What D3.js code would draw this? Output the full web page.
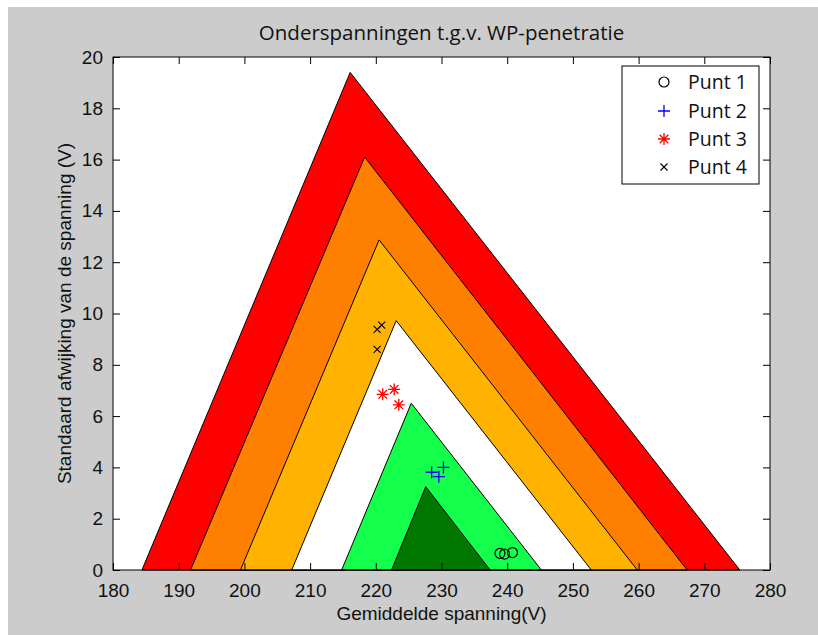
<!DOCTYPE html>
<html>
<head>
<meta charset="utf-8">
<script src="https://cdn.jsdelivr.net/npm/d3@7"></script>
<style>
body { margin: 0; background: #fff; }
text { font-family: "Liberation Sans", Arial, sans-serif; fill: #111; }
</style>
</head>
<body>
<div id="chart"></div>
<script>
// bands, outer to inner: left foot, apex (V, sigma), right foot
var bandColors = ["#ff0000", "#ff8000", "#ffb300", "#ffffff", "#14ff4c", "#007800"];
var leftFoot  = [184.4, 191.8, 199.4, 207.2, 214.8, 222.4];
var apexX     = [216.1, 218.3, 220.5, 223.1, 225.4, 227.6];
var apexY     = [19.4, 16.1, 12.87, 9.72, 6.5, 3.25];
var rightFoot = [275.4, 267.4, 259.8, 252.8, 245.2, 237.4];

// measured points
var punt1X = [238.9, 239.6, 240.8], punt1Y = [0.65, 0.62, 0.68];
var punt2X = [228.5, 229.6, 230.3], punt2Y = [3.81, 3.64, 4.0];
var punt3X = [221.05, 222.8, 223.5], punt3Y = [6.85, 7.04, 6.44];
var punt4X = [220.2, 220.9, 220.2], punt4Y = [9.38, 9.55, 8.6];

var legendLabels = ["Punt 1", "Punt 2", "Punt 3", "Punt 4"];
var xTicks = [180, 190, 200, 210, 220, 230, 240, 250, 260, 270, 280];
var yTicks = [0, 2, 4, 6, 8, 10, 12, 14, 16, 18, 20];

var W = 818, H = 635;
var margin = {top: 57, right: 48, bottom: 65, left: 113},
    width = W - margin.left - margin.right,
    height = H - margin.top - margin.bottom;

var svg = d3.select("#chart").append("svg")
    .attr("width", W)
    .attr("height", H);

// figure background
svg.append("rect")
    .attr("x", 8).attr("y", 7)
    .attr("width", W - 8).attr("height", H - 7)
    .attr("fill", "#cccccc");

var x = d3.scaleLinear().domain([180, 280]).range([0, width]);
var y = d3.scaleLinear().domain([0, 20]).range([height, 0]);

var g = svg.append("g")
    .attr("transform", "translate(" + margin.left + "," + margin.top + ")");

g.append("rect")
    .attr("width", width).attr("height", height)
    .attr("fill", "#fff");

// triangles
var line = d3.line().x(d => x(d[0])).y(d => y(d[1]));
bandColors.forEach(function(c, i) {
    var pts = [[leftFoot[i], 0], [apexX[i], apexY[i]], [rightFoot[i], 0]];
    g.append("path")
        .attr("d", line(pts) + "Z")
        .attr("fill", c)
        .attr("stroke", "#000")
        .attr("stroke-width", 1);
});

// marker shapes
function drawMarker(sel, type) {
    if (type === 0) {
        sel.append("circle").attr("r", 5).attr("fill", "none").attr("stroke", "#000").attr("stroke-width", 1.2);
    } else if (type === 1) {
        sel.append("path").attr("d", "M-6,0H6M0,-6V6").attr("stroke", "#0000ff").attr("stroke-width", 1.3);
    } else if (type === 2) {
        sel.append("path").attr("d", "M-6,0H6M0,-6V6M-4.3,-4.3L4.3,4.3M-4.3,4.3L4.3,-4.3")
            .attr("stroke", "#ff0000").attr("stroke-width", 1.3);
    } else {
        sel.append("path").attr("d", "M-3.5,-3.5L3.5,3.5M-3.5,3.5L3.5,-3.5")
            .attr("stroke", "#000").attr("stroke-width", 1.1);
    }
}

var series = [[punt1X, punt1Y], [punt2X, punt2Y], [punt3X, punt3Y], [punt4X, punt4Y]];
series.forEach(function(s, k) {
    s[0].forEach(function(v, i) {
        var m = g.append("g").attr("transform", "translate(" + x(v) + "," + y(s[1][i]) + ")");
        drawMarker(m, k);
    });
});

// axes: inside ticks on all four sides
function styleAxis(a) {
    a.select(".domain").remove();
    a.selectAll("line").attr("stroke", "#000");
}
var xb = g.append("g").attr("transform", "translate(0," + height + ")")
    .call(d3.axisBottom(x).tickValues(xTicks).tickSize(-7).tickPadding(14));
styleAxis(xb);
xb.selectAll("text").style("font-size", "19px").attr("fill", "#111");

var xt = g.append("g")
    .call(d3.axisTop(x).tickValues(xTicks).tickSize(-7).tickFormat(""));
styleAxis(xt);

var yl = g.append("g")
    .call(d3.axisLeft(y).tickValues(yTicks).tickSize(-7).tickPadding(10));
styleAxis(yl);
yl.selectAll("text").style("font-size", "19px").attr("fill", "#111");

var yr = g.append("g").attr("transform", "translate(" + width + ",0)")
    .call(d3.axisRight(y).tickValues(yTicks).tickSize(-7).tickFormat(""));
styleAxis(yr);

g.append("rect")
    .attr("width", width).attr("height", height)
    .attr("fill", "none").attr("stroke", "#000").attr("stroke-width", 1);

// title and labels
svg.append("text")
    .attr("x", margin.left + width / 2).attr("y", 40)
    .attr("text-anchor", "middle")
    .style("font-family", "'Open Sans', sans-serif")
    .style("font-size", "20.5px")
    .text("Onderspanningen t.g.v. WP-penetratie");

svg.append("text")
    .attr("x", margin.left + width / 2).attr("y", 620)
    .attr("text-anchor", "middle")
    .style("font-size", "19px")
    .text("Gemiddelde spanning(V)");

svg.append("text")
    .attr("transform", "translate(71," + (margin.top + height / 2) + ") rotate(-90)")
    .attr("text-anchor", "middle")
    .style("font-size", "19px")
    .text("Standaard afwijking van de spanning (V)");

// legend
var leg = svg.append("g");
leg.append("rect")
    .attr("x", 622).attr("y", 66).attr("width", 137).attr("height", 118)
    .attr("fill", "#fff").attr("stroke", "#000").attr("stroke-width", 1);
var rowY = [82, 111, 139, 167];
legendLabels.forEach(function(t, k) {
    var m = leg.append("g").attr("transform", "translate(664," + rowY[k] + ")");
    drawMarker(m, k);
    leg.append("text")
        .attr("x", 688).attr("y", rowY[k] + 7)
        .style("font-family", "'Open Sans', sans-serif")
        .style("font-size", "19.5px")
        .text(t);
});
</script>
</body>
</html>
